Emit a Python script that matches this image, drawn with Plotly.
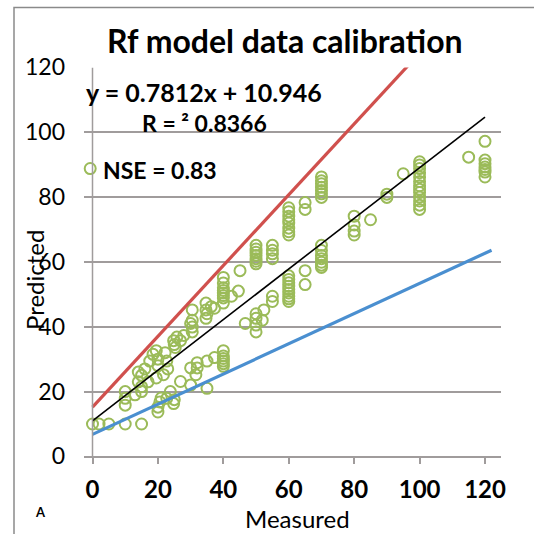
import plotly.graph_objects as go

# Scatter data (measured, predicted)
measured = [0, 2, 5, 10, 15,
            10, 10, 10,
            13, 14, 14, 15, 15, 15, 16, 17,
            17.5, 18.5, 19.5, 19.5, 20, 20,
            20, 20, 20.6, 21,
            21.7, 22.7, 22.2, 23,
            22.7, 23.8, 24.8, 25,
            24.8, 25.3, 25.8, 25,
            26.9, 26.9, 27.9,
            30, 30, 30.5, 30.5, 30.5, 30.5, 30,
            32, 32, 31.6,
            35, 35, 34.7, 34.7, 34.7, 35, 36.3,
            37.3, 37.3,
            40, 40, 40, 40, 40, 40, 40, 40, 40, 40, 40, 40, 40, 40,
            42.5, 44.6, 45.1,
            46.7, 50, 50, 50, 50, 51.9, 52.4,
            50, 50, 50, 50, 50, 50, 50,
            55, 55, 55, 55, 55, 55,
            60, 60, 60, 60, 60, 60, 60, 60, 60, 60,
            60, 60, 60, 60, 60, 60, 60,
            65, 65, 65, 65,
            70, 70, 70, 70, 70, 70, 70, 70,
            70, 70, 70, 70, 70, 70,
            80, 80, 80, 80, 85, 90, 90, 95,
            100, 100, 100, 100, 100, 100, 100,
            100, 100, 100, 100, 100, 100,
            115, 120, 120, 120, 120, 120, 120, 120]
predicted = [10, 10, 10, 10, 10,
             15.8, 17.9, 20,
             19, 23, 26, 20, 25, 21.5, 27, 23,
             29.4, 31.5, 24.2, 32.6, 28, 30,
             13.7, 15.2, 16.8, 18,
             25.2, 29.4, 32, 27,
             17.9, 20, 16.3, 17.5,
             35.7, 33.6, 36.8, 34.5,
             23.1, 35.7, 37.3,
             27.3, 22, 45.2, 42, 39.9, 38.4, 41,
             27.3, 28.9, 25.2,
             21, 29.4, 47.3, 45.2, 42.6, 44, 46.2,
             30.5, 45.7,
             32.6, 31, 29.4, 27.8, 55.2, 52, 50.4, 48.9, 47.3, 49.6, 51.2, 53.5, 30.2, 28.6,
             49.4, 51, 57.3,
             41, 40.5, 38.4, 42.6, 44, 42, 45.2,
             65.1, 63, 61, 59.4, 62, 64, 60.2,
             65.1, 62.5, 61, 49.4, 47.8, 63.6,
             76.7, 74.1, 72, 70.4, 68.3, 55.7, 53.6, 51.5, 49.4, 47.8,
             75.5, 73, 69.3, 54.6, 52.5, 50.4, 48.6,
             78.3, 76.2, 57.3, 53,
             86.2, 84.1, 82, 79.9, 65.1, 62, 59.9, 58.3,
             85, 83, 81, 63.5, 61, 59,
             74.1, 71.4, 68.3, 69.5, 73, 80.9, 79.9, 87.2,
             90.9, 88.8, 86.2, 83.5, 81.4, 78.8, 76.2,
             89.9, 87.5, 84.8, 82.4, 80, 77.5,
             92.3, 97.2, 91.4, 89.3, 87.7, 86.2, 88.5, 90.3]

# Reference lines
red_x = [0, 100]
red_y = [15.2, 124.4]
blue_x = [0, 122]
blue_y = [6.8, 63.6]
slope, intercept = 0.7812, 10.946
fit_x = [0, 120]
fit_y = [slope * v + intercept for v in fit_x]

legend_x = [-0.7]
legend_y = [88.8]

tick_vals = [0, 20, 40, 60, 80, 100, 120]
tick_text = ["0", "20", "40", "60", "80", "100", "120"]

GREEN = "#9BBB59"
GRID = "#A09C9C"
FONT = "Lato"

fig = go.Figure()
fig.add_trace(go.Scatter(x=measured, y=predicted, mode="markers",
                         marker=dict(symbol="circle-open", size=11, color=GREEN,
                                     line=dict(width=2, color=GREEN)),
                         showlegend=False, hoverinfo="skip"))
fig.add_trace(go.Scatter(x=red_x, y=red_y, mode="lines",
                         line=dict(color="#D0504D", width=3.2), showlegend=False))
fig.add_trace(go.Scatter(x=blue_x, y=blue_y, mode="lines",
                         line=dict(color="#4A8FD0", width=3.2), showlegend=False))
fig.add_trace(go.Scatter(x=fit_x, y=fit_y, mode="lines",
                         line=dict(color="black", width=1.6), showlegend=False))
fig.add_trace(go.Scatter(x=legend_x, y=legend_y, mode="markers",
                         marker=dict(symbol="circle-open", size=11, color=GREEN,
                                     line=dict(width=2, color=GREEN)),
                         showlegend=False, cliponaxis=False))

fig.update_layout(
    width=534, height=534,
    margin=dict(l=0, r=0, t=0, b=0, autoexpand=False),
    paper_bgcolor="white", plot_bgcolor="white",
    font=dict(family=FONT, color="black"),
    xaxis=dict(domain=[84 / 534, 500.7 / 534], range=[-2.6, 124.8],
               automargin=False,
               tickvals=tick_vals, ticktext=tick_text,
               tickfont=dict(size=24, family=FONT, weight="bold"),
               ticks="outside", ticklen=6, tickcolor=GRID, tickwidth=1.5,
               showgrid=False, zeroline=False,
               showline=True, linecolor=GRID, linewidth=1.5,
               ticklabelstandoff=5),
    yaxis=dict(domain=[77.6 / 534, 466.6 / 534], range=[0, 120],
               automargin=False,
               tickvals=tick_vals, ticktext=tick_text,
               tickfont=dict(size=23, family=FONT),
               showgrid=True, gridcolor=GRID, gridwidth=1.5,
               zeroline=False, showline=False, ticks="",
               ticklabelstandoff=18),
    shapes=[
        dict(type="line", xref="x", yref="y", x0=0, x1=0, y0=0, y1=120,
             line=dict(color=GRID, width=1.5)),
        dict(type="rect", xref="paper", yref="paper", x0=14 / 534, x1=1.05,
             y0=-0.05, y1=1 - 7.5 / 534, line=dict(color="#8A8A8A", width=1.5)),
    ],
    annotations=[
        dict(text="<b>Rf model data calibration</b>", xref="paper", yref="paper",
             x=285 / 534, y=1 - 41 / 534, showarrow=False,
             font=dict(size=32, family=FONT), xanchor="center", yanchor="middle"),
        dict(text="<b>y = 0.7812x + 10.946</b>", xref="paper", yref="paper",
             x=204 / 534, y=1 - 92 / 534, showarrow=False,
             font=dict(size=25, family=FONT), xanchor="center", yanchor="middle"),
        dict(text="<b>R = ² 0.8366</b>", xref="paper", yref="paper",
             x=204 / 534, y=1 - 123 / 534, showarrow=False,
             font=dict(size=23, family=FONT), xanchor="center", yanchor="middle"),
        dict(text="<b>NSE = 0.83</b>", xref="paper", yref="paper",
             x=101 / 534, y=1 - 170 / 534, showarrow=False,
             font=dict(size=23, family=FONT), xanchor="left", yanchor="middle"),
        dict(text="Predicted", xref="paper", yref="paper",
             x=34 / 534, y=1 - 280 / 534, showarrow=False, textangle=-90,
             font=dict(size=24, family=FONT), xanchor="center", yanchor="middle"),
        dict(text="Measured", xref="paper", yref="paper",
             x=297 / 534, y=1 - 518 / 534, showarrow=False,
             font=dict(size=24, family=FONT), xanchor="center", yanchor="middle"),
        dict(text="<b>A</b>", xref="paper", yref="paper",
             x=40 / 534, y=1 - 512 / 534, showarrow=False,
             font=dict(size=13, family=FONT), xanchor="center", yanchor="middle"),
    ],
)

fig.write_html("out.html")
